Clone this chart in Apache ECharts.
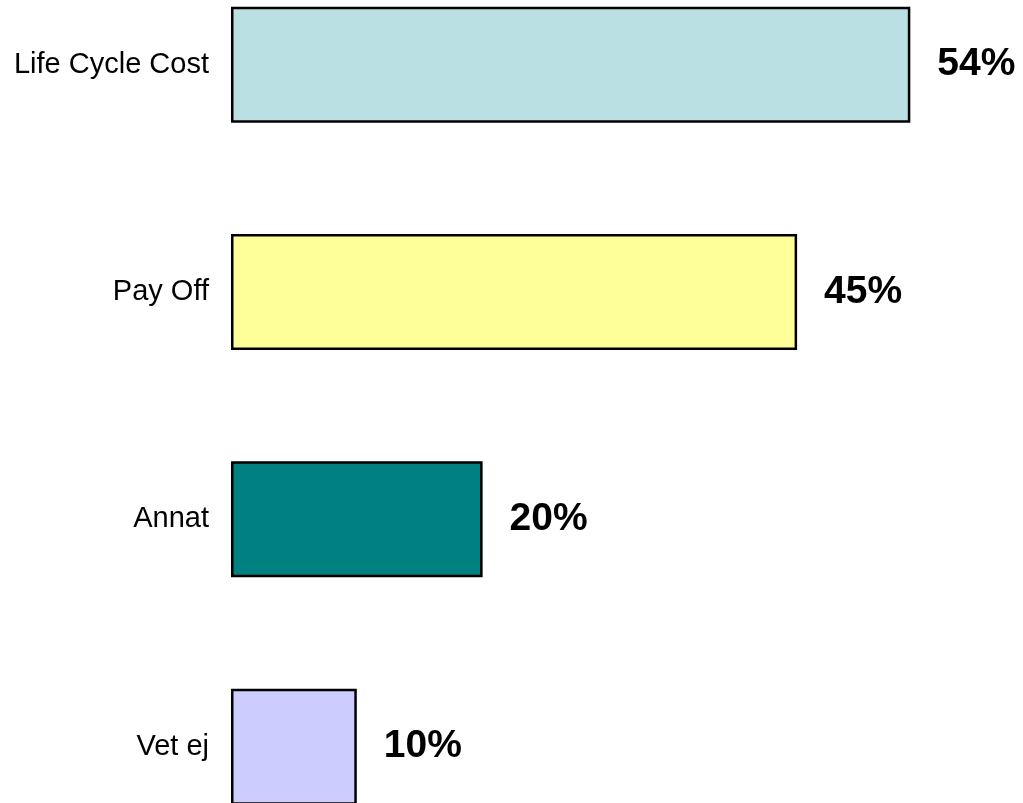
<!DOCTYPE html>
<html>
<head>
<meta charset="utf-8">
<script src="https://cdn.jsdelivr.net/npm/echarts@6/dist/echarts.min.js"></script>
<style>
html,body{margin:0;padding:0;background:#fff;overflow:hidden;width:1023px;height:803px;}
#chart{position:absolute;left:0;top:-49px;width:1023px;height:910px;}
</style>
</head>
<body>
<div id="chart"></div>
<script>
const categories = ["Life Cycle Cost", "Pay Off", "Annat", "Vet ej"];
const values = [54, 45, 20, 10];
const colors = ["#BBE0E3", "#FFFF99", "#008080", "#CCCCFF"];

const chart = echarts.init(document.getElementById('chart'));
chart.setOption({
  animation: false,
  backgroundColor: '#ffffff',
  grid: { left: 231, top: 0, width: 754.8, height: 909.3, containLabel: false },
  xAxis: {
    type: 'value', min: 0, max: 60,
    show: false,
    splitLine: { show: false }
  },
  yAxis: {
    type: 'category',
    data: categories,
    inverse: true,
    axisLine: { show: false },
    axisTick: { show: false },
    splitLine: { show: false },
    axisLabel: {
      color: '#000',
      fontSize: 29,
      fontFamily: 'Liberation Sans, Arial, sans-serif',
      margin: 22
    }
  },
  series: [{
    type: 'bar',
    barWidth: 116,
    data: values.map((v, i) => ({
      value: v,
      itemStyle: { color: colors[i], borderColor: '#000', borderWidth: 2.5 }
    })),
    label: {
      show: true,
      position: 'right',
      distance: 27,
      formatter: p => p.value + '%',
      color: '#000',
      fontSize: 39,
      fontWeight: 'bold',
      fontFamily: 'Liberation Sans, Arial, sans-serif'
    }
  }]
});
</script>
</body>
</html>
